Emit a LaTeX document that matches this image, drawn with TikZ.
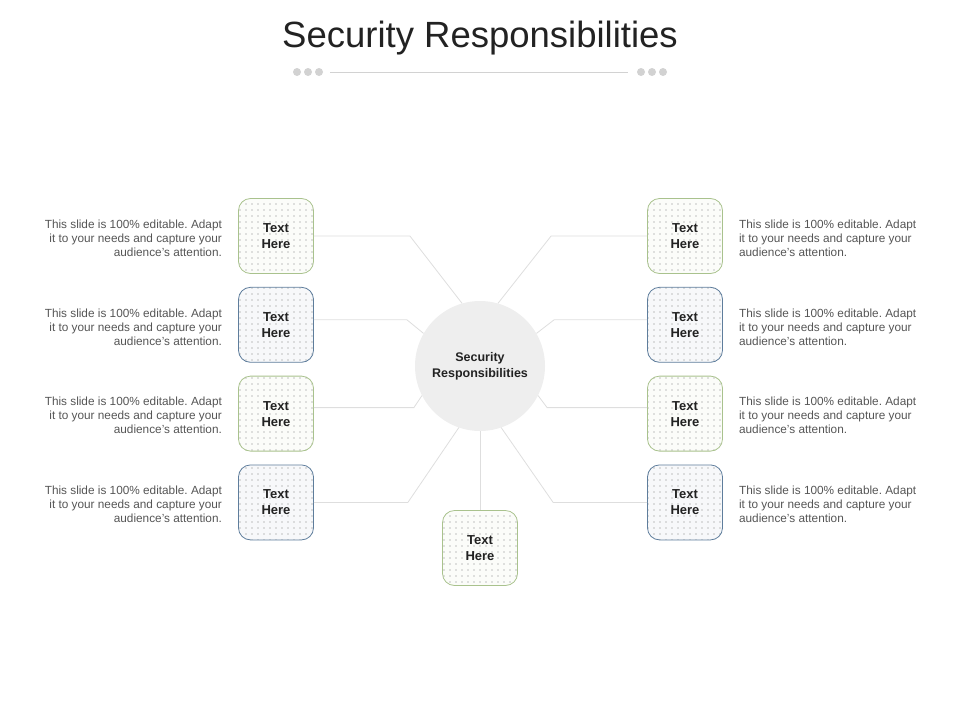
\documentclass[tikz,border=0pt]{standalone}
\usepackage{fontspec}
\setmainfont{Liberation Sans}
\usetikzlibrary{positioning, patterns.meta}
\definecolor{boxgreen}{HTML}{A9C28D}
\definecolor{boxblue}{HTML}{5E7D9C}
\definecolor{linkgray}{HTML}{DEDEDE}
\definecolor{dotgray}{HTML}{D2D2D2}
\definecolor{textdark}{HTML}{222222}
\definecolor{bodygray}{HTML}{555555}
\frenchspacing

\begin{document}
\begin{tikzpicture}[x=1pt,y=-1pt]
\tikzset{block/.style={rectangle,rounded corners=12pt,minimum width=75pt,minimum height=75pt,line width=0.8pt,draw=#1,preaction={fill=#1!5!white},pattern={Dots[distance=6pt,radius=0.6pt]},pattern color=gray,align=center,text=textdark,font=\fontsize{13}{16}\selectfont\bfseries},
  hub/.style={circle,fill=gray!13,minimum size=130pt,inner sep=0pt,align=center,text=textdark,font=\fontsize{12.5}{16}\selectfont\bfseries},
  note/.style={inner sep=0pt,text=bodygray,font=\fontsize{11.8}{14}\selectfont},
  link/.style={draw=linkgray,line width=0.8pt},
  dot/.style={circle,fill=dotgray,inner sep=0pt,minimum size=8pt}}

\useasboundingbox (0,0) rectangle (960,720);

\node[text=textdark,font=\fontsize{36.5}{40}\selectfont] (title) at (480,38) {Security Responsibilities};
\draw[draw=dotgray,line width=0.8pt] (330,72) -- (628,72);
\foreach \x in {297,308,319,641,652,663}
  \node[dot] at (\x,72) {};

\node[hub] (hub) at (480,366) {Security\\Responsibilities};

% left column
\node[block=boxgreen] (l1) at (276,236) {Text\\Here};
\node[block=boxblue, below=13pt of l1] (l2) {Text\\Here};
\node[block=boxgreen, below=13pt of l2] (l3) {Text\\Here};
\node[block=boxblue, below=13pt of l3] (l4) {Text\\Here};

% right column
\node[block=boxgreen] (r1) at (685,236) {Text\\Here};
\node[block=boxblue, below=13pt of r1] (r2) {Text\\Here};
\node[block=boxgreen, below=13pt of r2] (r3) {Text\\Here};
\node[block=boxblue, below=13pt of r3] (r4) {Text\\Here};

\node[block=boxgreen] (bot) at (480,548) {Text\\Here};

\foreach \n in {1,...,4} {
  \node[note, align=right, anchor=east, left=16pt of l\n, yshift=-2pt] (nl\n) {This slide is 100\% editable. Adapt\\it to your needs and capture your\\audience's attention.};
  \node[note, align=left, anchor=west, right=16pt of r\n, yshift=-2pt] (nr\n) {This slide is 100\% editable. Adapt\\it to your needs and capture your\\audience's attention.};
}

\draw[link] (l1.east) -- ++(96,0) -- (hub.106);
\draw[link] ([yshift=5pt]l2.east) -- ++(93,0) -- (hub.150);
\draw[link] ([yshift=6pt]l3.east) -- ++(100,0) -- (hub.207);
\draw[link] (l4.east) -- ++(94,0) -- (hub.251);
\draw[link] (r1.west) -- ++(-96,0) -- (hub.74);
\draw[link] ([yshift=5pt]r2.west) -- ++(-93,0) -- (hub.30);
\draw[link] ([yshift=6pt]r3.west) -- ++(-100,0) -- (hub.-27);
\draw[link] (r4.west) -- ++(-94,0) -- (hub.-71);
\draw[link] (hub.south) -- (bot.north);

\end{tikzpicture}
\end{document}
